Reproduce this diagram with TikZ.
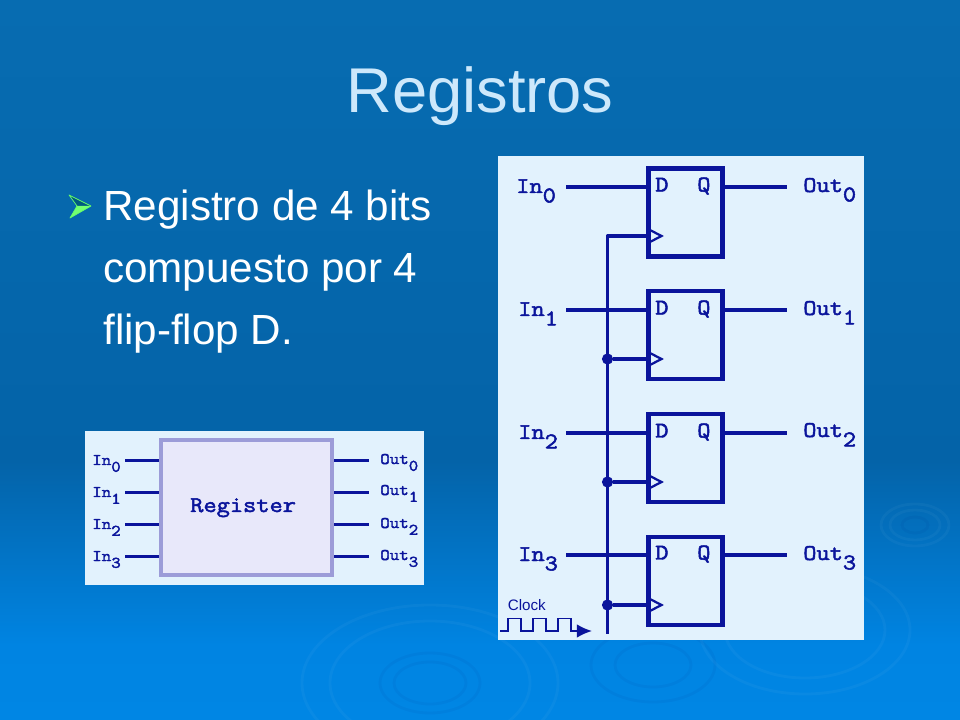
\documentclass[tikz,border=0pt]{standalone}
\usepackage{fontspec}
\setmainfont{Liberation Sans}
\newfontfamily\monoet[FakeBold=2.2,FakeStretch=1.14]{Latin Modern Mono}
\usetikzlibrary{positioning}
\usetikzlibrary{shapes.geometric}
\usetikzlibrary{arrows.meta}
\definecolor{hilo}{HTML}{0A149B}
\definecolor{lamina}{HTML}{E2F2FD}
\definecolor{titulo}{HTML}{CDE8FB}
\definecolor{caja}{HTML}{E8E8FA}
\definecolor{borde}{HTML}{9C9CD8}
\definecolor{fondoa}{HTML}{076CB1}
\definecolor{fondob}{HTML}{0463A8}
\definecolor{fondoc}{HTML}{0084E2}
\definecolor{fondod}{HTML}{0086E4}
\pgfdeclareverticalshading{fondo}{100bp}{color(0bp)=(fondod); color(25bp)=(fondod); color(30.2bp)=(fondoc); color(43bp)=(fondob); color(75bp)=(fondoa); color(100bp)=(fondoa)}
\newcommand{\ind}[1]{\raisebox{-.42em}{#1}}
\tikzstyle{biestable} = [rectangle, minimum width=1.85cm, minimum height=2.2cm, line width=2.9pt, draw=hilo, inner sep=0pt]
\tikzstyle{registro} = [rectangle, minimum width=4.275cm, minimum height=3.375cm, line width=3pt, draw=borde, fill=caja, inner sep=0pt]
\tikzstyle{panel} = [rectangle, fill=lamina, inner sep=0pt]
\tikzstyle{cable} = [line width=2.5pt, draw=hilo]
\tikzstyle{cablefino} = [line width=2.1pt, draw=hilo]
\tikzstyle{triang} = [line width=1.6pt, draw=hilo]
\tikzstyle{punto} = [circle, fill=hilo, minimum size=.28cm, inner sep=0pt]
\tikzstyle{etiqueta} = [anchor=base west, inner sep=0pt, text=hilo, font=\monoet\fontsize{16}{18}\selectfont]
\tikzstyle{etiquetap} = [anchor=base west, inner sep=0pt, text=hilo, font=\monoet\fontsize{11.5}{13}\selectfont]
\tikzstyle{onda} = [opacity=.035, white, line width=2pt]
\tikzstyle{ondaosc} = [opacity=.045, blue!40!black, line width=2pt]
\begin{document}
\begin{tikzpicture}[x=0.025cm,y=-0.025cm]
	\useasboundingbox (0,0) rectangle (960,720);
	\shade[shading=fondo] (0,0) rectangle (960,720);
	% ondas del fondo
	\begin{scope}
		\clip (0,0) rectangle (960,720);
		\draw[onda] (915,525) ellipse [x radius=34, y radius=21];
		\draw[onda] (915,525) ellipse [x radius=25, y radius=15];
		\draw[ondaosc] (915,525) ellipse [x radius=13, y radius=8];
		\draw[onda] (430,683) ellipse [x radius=128, y radius=78];
		\draw[onda] (430,683) ellipse [x radius=100, y radius=62];
		\draw[ondaosc] (430,683) ellipse [x radius=50, y radius=30];
		\draw[ondaosc] (430,683) ellipse [x radius=36, y radius=21];
		\draw[ondaosc] (653,665) ellipse [x radius=62, y radius=37];
		\draw[ondaosc] (653,665) ellipse [x radius=38, y radius=22];
		\draw[onda] (805,630) ellipse [x radius=105, y radius=64];
		\draw[onda] (805,630) ellipse [x radius=80, y radius=48];
	\end{scope}
	% titulo y texto
	\node (tit) at (480,113) [anchor=base, inner sep=0pt, text=titulo, font=\fontsize{45}{50}\selectfont] {Registros};
	\node (cuerpo) at (103,190) [anchor=north west, inner sep=0pt, align=left, text=white, font=\fontsize{30}{44}\selectfont] {Registro de 4 bits\\compuesto por 4\\flip-flop D.};
	\coordinate (vinieta) at (77,206);
	\fill[blue!30!cyan!50!black] (vinieta) -- (70,195) -- (91,206) -- cycle;
	\fill[green!55!white] (vinieta) -- (70,218) -- (91,206) -- cycle;
	\draw[green!60!white, line width=.5pt, line join=round] (vinieta) -- (69,195) -- (91,206) -- (70,218) -- cycle;
	% register
	\node (psmall) at (254.5,508) [panel, minimum width=8.475cm, minimum height=3.85cm] {};
	\node (reg) at (246.5,507.5) [registro] {};
	\node (regt) at (190,512) [etiqueta] {Register};
	\node (iq0) at (92,465) [etiquetap] {In\ind{0}};
	\node (iq1) at (92,497) [etiquetap] {In\ind{1}};
	\node (iq2) at (92,529) [etiquetap] {In\ind{2}};
	\node (iq3) at (92,561) [etiquetap] {In\ind{3}};
	\node (oq0) at (380,464) [etiquetap] {Out\ind{0}};
	\node (oq1) at (380,495) [etiquetap] {Out\ind{1}};
	\node (oq2) at (380,528) [etiquetap] {Out\ind{2}};
	\node (oq3) at (380,560) [etiquetap] {Out\ind{3}};
	\coordinate (ri0) at (125,460.5);
	\coordinate (ri1) at (125,492.5);
	\coordinate (ri2) at (125,524.5);
	\coordinate (ri3) at (125,556.5);
	\coordinate (ro0) at (369,460.5);
	\coordinate (ro1) at (369,492.5);
	\coordinate (ro2) at (369,524.5);
	\coordinate (ro3) at (369,556.5);
	\draw[cablefino] (ri0) -- (ri0 -| reg.west);
	\draw[cablefino] (ri1) -- (ri1 -| reg.west);
	\draw[cablefino] (ri2) -- (ri2 -| reg.west);
	\draw[cablefino] (ri3) -- (ri3 -| reg.west);
	\draw[cablefino] (ro0 -| reg.east) -- (ro0);
	\draw[cablefino] (ro1 -| reg.east) -- (ro1);
	\draw[cablefino] (ro2 -| reg.east) -- (ro2);
	\draw[cablefino] (ro3 -| reg.east) -- (ro3);
	% flip-flops
	\node (pbig) at (681,398) [panel, minimum width=9.15cm, minimum height=12.1cm] {};
	\node (ffa) at (685.5,212.5) [biestable] {};
	\node (ffb) at (685.5,335) [biestable] {};
	\node (ffc) at (685.5,458) [biestable] {};
	\node (ffd) at (685.5,581) [biestable] {};
	\node (da) at (655,191.5) [etiqueta] {D};
	\node (qa) at (697,191.5) [etiqueta] {Q};
	\node (db) at (655,314.5) [etiqueta] {D};
	\node (qb) at (697,314.5) [etiqueta] {Q};
	\node (dc) at (655,437.5) [etiqueta] {D};
	\node (qc) at (697,437.5) [etiqueta] {Q};
	\node (dd) at (655,559.5) [etiqueta] {D};
	\node (qd) at (697,559.5) [etiqueta] {Q};
	\node (ia) at (516,193) [etiqueta] {In\ind{0}};
	\node (ib) at (518,316) [etiqueta] {In\ind{1}};
	\node (ic) at (518,439) [etiqueta] {In\ind{2}};
	\node (id) at (518,561) [etiqueta] {In\ind{3}};
	\node (oa) at (803,192) [etiqueta] {Out\ind{0}};
	\node (ob) at (803,315) [etiqueta] {Out\ind{1}};
	\node (oc) at (803,437) [etiqueta] {Out\ind{2}};
	\node (od) at (803,560) [etiqueta] {Out\ind{3}};
	\coordinate (ea) at (566,187);
	\coordinate (eb) at (566,310);
	\coordinate (ec) at (566,433);
	\coordinate (ed) at (566,555);
	\coordinate (sa) at (787,187);
	\coordinate (sb) at (787,310);
	\coordinate (sc) at (787,433);
	\coordinate (sd) at (787,555);
	\draw[cable] (ea) -- (ea -| ffa.west);
	\draw[cable] (eb) -- (eb -| ffb.west);
	\draw[cable] (ec) -- (ec -| ffc.west);
	\draw[cable] (ed) -- (ed -| ffd.west);
	\draw[cable] (sa -| ffa.east) -- (sa);
	\draw[cable] (sb -| ffb.east) -- (sb);
	\draw[cable] (sc -| ffc.east) -- (sc);
	\draw[cable] (sd -| ffd.east) -- (sd);
	% reloj
	\coordinate (cka) at (648,236);
	\coordinate (ckb) at (648,359);
	\coordinate (ckc) at (648,482);
	\coordinate (ckd) at (648,605);
	\coordinate (busa) at (607.5,236);
	\coordinate (busfin) at (607.5,634);
	\node (pb) at (607.5,359) [punto] {};
	\node (pc) at (607.5,482) [punto] {};
	\node (pd) at (607.5,605) [punto] {};
	\draw[cable, line join=round] (cka) -- (busa) -- (busfin);
	\draw[cable] (pb) -- (ckb);
	\draw[cable] (pc) -- (ckc);
	\draw[cable] (pd) -- (ckd);
	\draw[triang] (cka) ++(0,-7) -- ++(13.5,7) -- ++(-13.5,7);
	\draw[triang] (ckb) ++(0,-7) -- ++(13.5,7) -- ++(-13.5,7);
	\draw[triang] (ckc) ++(0,-7) -- ++(13.5,7) -- ++(-13.5,7);
	\draw[triang] (ckd) ++(0,-7) -- ++(13.5,7) -- ++(-13.5,7);
	\node (clk) at (507.5,610) [anchor=base west, inner sep=0pt, text=hilo, font=\fontsize{10.8}{12}\selectfont] {Clock};
	\coordinate (ondai) at (500,631);
	\coordinate (ondaf) at (592,631);
	\draw[hilo, line width=1.2pt, -{Latex[length=.38cm,width=.34cm]}] (ondai) -- (508.3,631) -- (508.3,618.5) -- (520.7,618.5) -- (520.7,631) -- (533.3,631) -- (533.3,618.5) -- (546,618.5) -- (546,631) -- (558.3,631) -- (558.3,618.5) -- (571,618.5) -- (571,631) -- (ondaf);
\end{tikzpicture}
\end{document}
